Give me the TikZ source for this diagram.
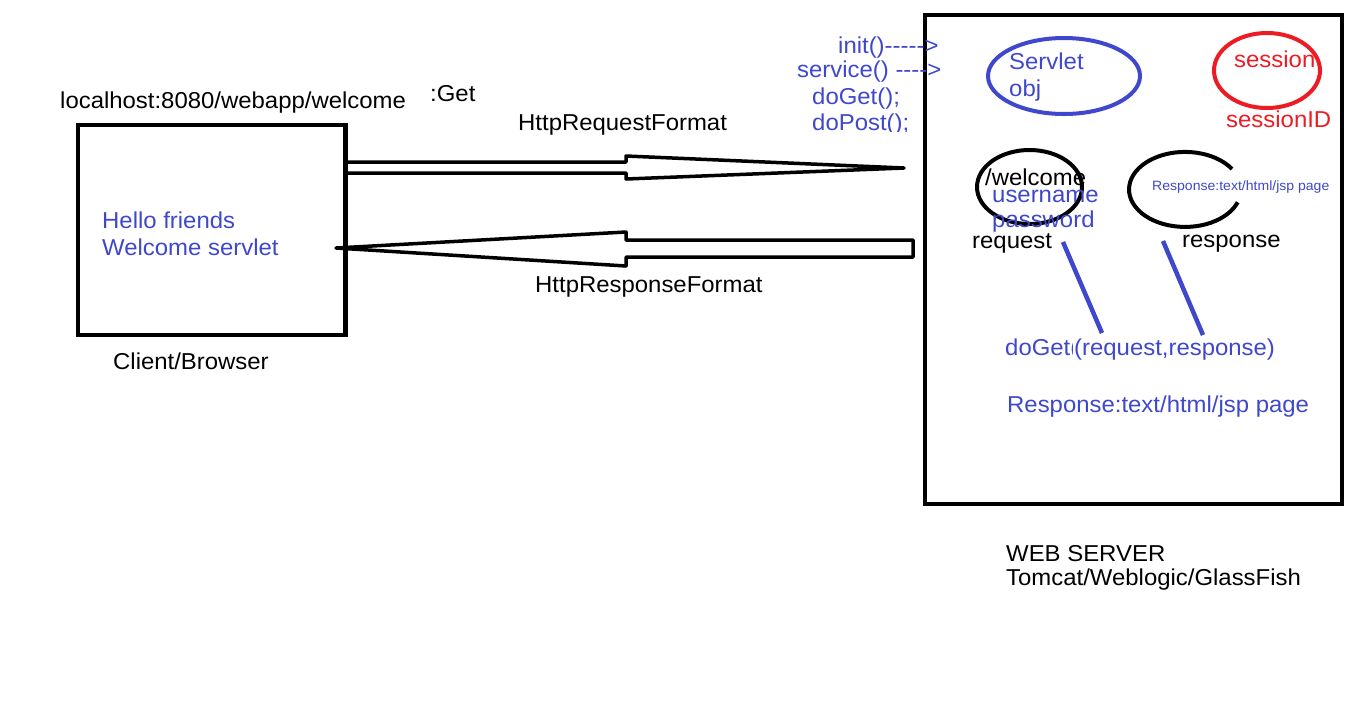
\documentclass[tikz,border=0pt]{standalone}
\usepackage{fontspec}
\setmainfont{Liberation Sans}[FakeStretch=1.04]
\usetikzlibrary{shapes.geometric}
\definecolor{pblue}{RGB}{63,72,204}
\definecolor{pred}{RGB}{237,28,36}
\begin{document}
\begin{tikzpicture}[x=1pt,y=-1pt,
  txt/.style={anchor=base west, inner sep=0pt, font=\fontsize{23}{27}\selectfont},
  btxt/.style={txt, text=pblue},
  rtxt/.style={txt, text=pred},
  smalltxt/.style={anchor=base west, inner sep=0pt, font=\fontsize{13.5}{16}\selectfont, text=pblue},
  box/.style={draw=black, line width=4.5pt},
  fat/.style={draw=black, line width=3.5pt, line join=round},
  oval/.style={ellipse, line width=4pt, inner sep=0pt},
  link/.style={draw=pblue, line width=4.5pt}
]
\useasboundingbox (0,0) rectangle (1355,716);
\fill[white] (0,0) rectangle (1355,716);

% boxes
\node[box, minimum width=267.5pt, minimum height=210pt, inner sep=0pt] (client) at (211.75,230) {};
\node[box, minimum width=417pt, minimum height=489pt, inner sep=0pt] (server) at (1133.5,259.5) {};

% hollow arrows
\draw[fat] (client.east |- 0,162) -- (626,162) -- (626,156) -- (904,168) -- (626,179) -- (626,173) -- (client.east |- 0,173);
\draw[fat] (913,240) -- (626,240) -- (626,232) -- (336,248) -- (626,266) -- (626,257) -- (913,257) -- cycle;

% client texts
\node[txt] (url) at (60,108) {localhost:8080/webapp/welcome};
\node[txt] (get) at (430,101) {:Get};
\node[txt] (reqf) at (518,130) {HttpRequestFormat};
\node[txt] (resf) at (535,292) {HttpResponseFormat};
\node[btxt] (hello) at (102,228) {Hello friends};
\node[btxt] (welc) at (102,255) {Welcome servlet};
\node[txt] (cb) at (113,369) {Client/Browser};
\node[txt] (ws) at (1006,561) {WEB SERVER};
\node[txt] (tom) at (1006,585) {Tomcat/Weblogic/GlassFish};

% lifecycle methods
\node[btxt] (init) at (838,53) {init(){-}{-}{-}{-}{-}>};
\node[btxt] (serv) at (797,77) {service() {-}{-}{-}{-}>};
\node[btxt] (doget) at (812,104) {doGet();};
\begin{scope}
\clip (800,100) rectangle (930,131);
\node[btxt] (dopost) at (812,130) {doPost();};
\end{scope}

% server ovals
\node[oval, draw=pblue, minimum width=152pt, minimum height=76pt] (servobj) at (1064,76) {};
\node[btxt] (servlet) at (1009,69) {Servlet};
\node[btxt] (obj) at (1009,96) {obj};
\node[oval, draw=pred, minimum width=106pt, minimum height=75pt] (session) at (1267,70.5) {};
\node[rtxt] (sess) at (1234,67) {session};
\node[rtxt] (sessid) at (1226,127) {sessionID};

\node[oval, draw=black, minimum width=105pt, minimum height=74pt] (reqoval) at (1029.5,187) {};
\node[txt] (welcome) at (985,185) {/welcome};
\node[btxt] (user) at (992,202) {username};
\node[btxt] (pass) at (992,227) {password};
\node[txt] (request) at (972,248) {request};

\draw[black, line width=4pt] (1232,169) arc[start angle=-33, end angle=-340, x radius=56, y radius=37.5];
\node[smalltxt] (resptxt) at (1152,190) {Response:text/html/jsp page};
\node[txt] (response) at (1182,247) {response};

% links
\coordinate (l1a) at (1063,242);
\coordinate (l1b) at (1102,333);
\coordinate (l2a) at (1163,241);
\coordinate (l2b) at (1203,335);
\draw[link] (l1a) -- (l1b);
\draw[link] (l2a) -- (l2b);

\begin{scope}
\clip (1000,320) rectangle (1072,370);
\node[btxt] (dg) at (1005,355) {doGet(};
\end{scope}
\node[btxt] (args) at (1074,355) {(request,response)};
\node[btxt] (resp2) at (1007,412) {Response:text/html/jsp page};
\end{tikzpicture}
\end{document}
